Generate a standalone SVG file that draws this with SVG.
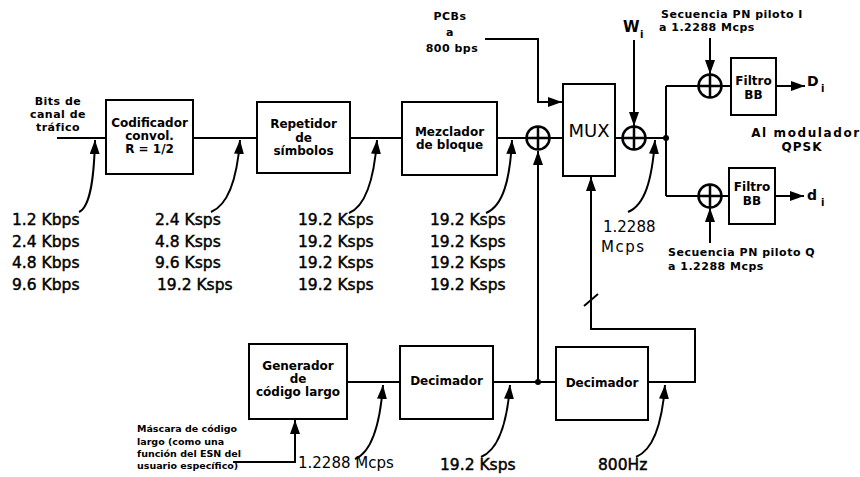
<svg xmlns="http://www.w3.org/2000/svg" width="860" height="477" viewBox="0 0 860 477">
<style>
.box{fill:#fff;stroke:#000;stroke-width:2}
.ln{fill:none;stroke:#000;stroke-width:2}
.arr{fill:none;stroke:#000;stroke-width:2;marker-end:url(#ah)}
.b{font-family:'DejaVu Sans',sans-serif;font-weight:bold;font-size:12px;fill:#000}
.bc{text-anchor:middle}
.s{font-family:'DejaVu Sans',sans-serif;font-weight:bold;font-size:11px;fill:#000;letter-spacing:0.5px}
.m{font-family:'DejaVu Sans',sans-serif;font-weight:bold;font-size:9.5px;fill:#000}
.r{font-family:'DejaVu Sans',sans-serif;font-size:15.5px;fill:#000;stroke:#000;stroke-width:0.45}
.n{font-family:'DejaVu Sans',sans-serif;font-size:15px;fill:#000}
.x{fill:#fff;stroke:#000;stroke-width:2.5}
</style>
<defs>
<marker id="ah" viewBox="0 0 14 10" markerWidth="14" markerHeight="10" refX="14" refY="5" orient="auto" markerUnits="userSpaceOnUse">
<path d="M0 0 L14 5 L0 10 Z" fill="#000"/>
</marker>
<g id="xor"><circle r="11.5"/><path d="M-11.5 0 H11.5 M0 -11.5 V11.5"/></g>
</defs>
<rect width="860" height="477" fill="#fff"/>

<g id="connectors">
<path class="ln" d="M57 138 H106 M193 138 H257 M350 138 H402 M497 138 H526 M550 138 H563 M615 138 H622 M646 138 H666"/>
<path class="ln" d="M666 86 V196 M666 86 H698 M722 86 H731 M666 196 H698 M722 196 H729"/>
<path class="arr" d="M776 86 H805"/>
<path class="arr" d="M775 196 H804"/>
<path class="arr" d="M485 39 H538 V102 H562"/>
<path class="arr" d="M634 40 V126"/>
<path class="arr" d="M710 38 V74"/>
<path class="arr" d="M710 243 V208"/>
<path class="arr" d="M538 382 V151"/>
<path class="ln" d="M347 382 H400 M493 382 H556"/>
<path class="arr" d="M648 382 H695 V329 H591 V177"/>
<path class="ln" d="M584 306 L598 294"/>
<path class="arr" d="M233 462 H295 V420"/>
<circle cx="666" cy="138" r="3"/>
<circle cx="538" cy="382" r="3"/>
<path class="arr" d="M79 212 C 90 207, 94 180, 95 140"/>
<path class="arr" d="M211 212 C 228 205, 237 180, 240 140"/>
<path class="arr" d="M349 213 C 366 206, 374 180, 377 140"/>
<path class="arr" d="M486 213 C 503 206, 510 180, 512 140"/>
<path class="arr" d="M628 212 C 645 205, 652 180, 655 140"/>
<path class="arr" d="M355 459 C 372 452, 380 425, 383 385"/>
<path class="arr" d="M481 457 C 498 450, 507 425, 510 385"/>
<path class="arr" d="M636 457 C 653 450, 662 425, 665 385"/>
</g>

<g id="codificador">
<rect class="box" x="106" y="100" width="87" height="74"/>
<text class="b bc" x="149.5" y="127">Codificador</text>
<text class="b bc" x="149.5" y="140">convol.</text>
<text class="b bc" x="149.5" y="153">R = 1/2</text>
</g>
<g id="repetidor">
<rect class="box" x="257" y="102" width="93" height="71"/>
<text class="b bc" x="303.5" y="128">Repetidor</text>
<text class="b bc" x="303.5" y="141.5">de</text>
<text class="b bc" x="303.5" y="155">símbolos</text>
</g>
<g id="mezclador">
<rect class="box" x="402" y="102" width="95" height="73"/>
<text class="b bc" x="449.5" y="136">Mezclador</text>
<text class="b bc" x="449.5" y="149">de bloque</text>
</g>
<g id="xor1"><use href="#xor" x="538" y="138" class="x"/></g>
<g id="mux">
<rect class="box" x="563" y="84" width="52" height="92"/>
<text class="n" x="589" y="137" text-anchor="middle" style="font-size:18px">MUX</text>
</g>
<g id="xor2"><use href="#xor" x="634" y="138" class="x"/></g>
<g id="xor3"><use href="#xor" x="710" y="86" class="x"/></g>
<g id="xor4"><use href="#xor" x="710" y="196" class="x"/></g>
<g id="filtro1">
<rect class="box" x="731" y="58" width="45" height="57"/>
<text class="b bc" x="753.5" y="85">Filtro</text>
<text class="b bc" x="753.5" y="99">BB</text>
</g>
<g id="filtro2">
<rect class="box" x="729" y="168" width="46" height="56"/>
<text class="b bc" x="752" y="191">Filtro</text>
<text class="b bc" x="752" y="205">BB</text>
</g>
<g id="generador">
<rect class="box" x="249" y="344" width="98" height="75"/>
<text class="b bc" x="298" y="370">Generador</text>
<text class="b bc" x="298" y="383">de</text>
<text class="b bc" x="298" y="396">código largo</text>
</g>
<g id="decimador1">
<rect class="box" x="400" y="346" width="93" height="73"/>
<text class="b bc" x="446.5" y="385">Decimador</text>
</g>
<g id="decimador2">
<rect class="box" x="556" y="347" width="92" height="73"/>
<text class="b bc" x="602" y="387">Decimador</text>
</g>

<g id="labels">
<text class="s" x="58" y="105" text-anchor="middle">Bits de</text>
<text class="s" x="58" y="118" text-anchor="middle">canal de</text>
<text class="s" x="58" y="131" text-anchor="middle">tráfico</text>
<text class="s" x="450" y="20" text-anchor="middle">PCBs</text>
<text class="s" x="450" y="36" text-anchor="middle">a</text>
<text class="s" x="452" y="52" text-anchor="middle">800 bps</text>
<text class="b" x="623" y="32" style="font-size:15px">W</text>
<text class="b" x="640" y="38" style="font-size:10px">i</text>
<text class="s" x="661" y="18">Secuencia PN piloto I</text>
<text class="s" x="659" y="31">a 1.2288 Mcps</text>
<text class="s" x="668" y="256">Secuencia PN piloto Q</text>
<text class="s" x="668" y="270">a 1.2288 Mcps</text>
<text class="b" x="807" y="86" style="font-size:14px">D</text>
<text class="b" x="821" y="92" style="font-size:10px">i</text>
<text class="b" x="807" y="200" style="font-size:14px">d</text>
<text class="b" x="821" y="206" style="font-size:10px">i</text>
<text class="b" x="806" y="137" text-anchor="middle" style="letter-spacing:1.6px">Al modulador</text>
<text class="b" x="802" y="151" text-anchor="middle" style="letter-spacing:1px">QPSK</text>
<text class="n" x="603" y="232">1.2288</text>
<text class="n" x="601" y="252" style="letter-spacing:1.5px">Mcps</text>
<text class="r" x="12" y="225">1.2 Kbps</text>
<text class="r" x="12" y="246.5">2.4 Kbps</text>
<text class="r" x="12" y="268">4.8 Kbps</text>
<text class="r" x="12" y="289.5">9.6 Kbps</text>
<text class="r" x="155" y="225">2.4 Ksps</text>
<text class="r" x="155" y="246.5">4.8 Ksps</text>
<text class="r" x="155" y="268">9.6 Ksps</text>
<text class="r" x="157" y="289.5">19.2 Ksps</text>
<text class="r" x="298" y="225">19.2 Ksps</text>
<text class="r" x="298" y="246.5">19.2 Ksps</text>
<text class="r" x="298" y="268">19.2 Ksps</text>
<text class="r" x="298" y="289.5">19.2 Ksps</text>
<text class="r" x="430" y="225">19.2 Ksps</text>
<text class="r" x="430" y="246.5">19.2 Ksps</text>
<text class="r" x="430" y="268">19.2 Ksps</text>
<text class="r" x="430" y="289.5">19.2 Ksps</text>
<text class="m" x="137" y="432">Máscara de código</text>
<text class="m" x="137" y="444.5">largo (como una</text>
<text class="m" x="137" y="457">función del ESN del</text>
<text class="m" x="137" y="469">usuario específico)</text>
<text class="n" x="298" y="468">1.2288 Mcps</text>
<text class="r" x="440" y="470">19.2 Ksps</text>
<text class="r" x="598" y="470">800Hz</text>
</g>
</svg>
